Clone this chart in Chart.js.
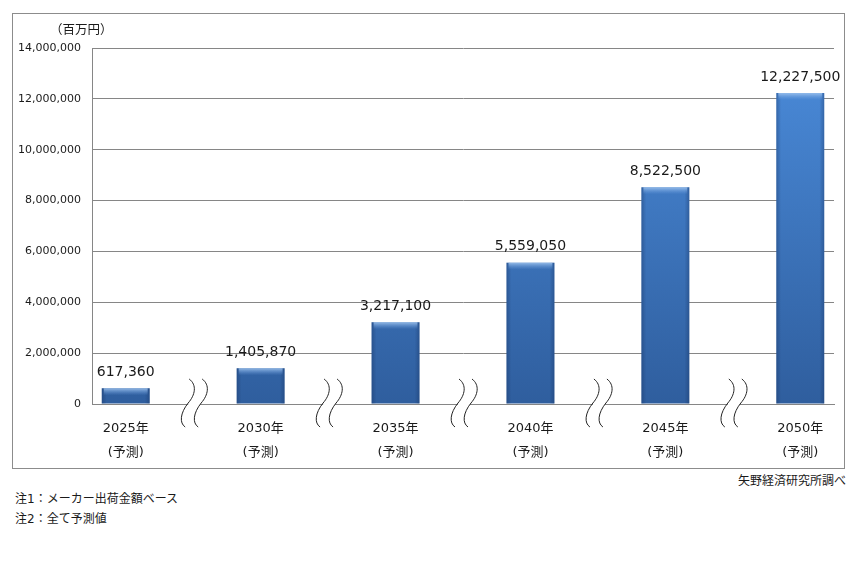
<!DOCTYPE html>
<html>
<head>
<meta charset="utf-8">
<script src="https://cdn.jsdelivr.net/npm/chart.js@4/dist/chart.umd.min.js"></script>
<style>
  body { margin: 0; background: #fff; width: 858px; height: 566px; position: relative; overflow: hidden;
         font-family: "DejaVu Sans", "Noto Sans CJK JP", sans-serif; color: #1a1a1a; }
  #box { position: absolute; left: 12px; top: 13px; width: 831px; height: 454px; border: 1px solid #8c8c8c; }
  #unit { position: absolute; left: 50px; top: 19px; font-size: 12.5px; }
  #src { position: absolute; right: 12px; top: 471px; font-size: 12px; }
  .note { position: absolute; left: 15px; font-size: 12px; }
</style>
</head>
<body>
<div id="box"><canvas id="myChart" width="831" height="454"></canvas></div>
<div id="unit">（百万円）</div>
<div id="src">矢野経済研究所調べ</div>
<div class="note" style="top:489px">注1：メーカー出荷金額ベース</div>
<div class="note" style="top:509px">注2：全て予測値</div>
<script>
// 11 slots: bars on even slots, wavy break marks on the odd ones
var years = ["2025年", "", "2030年", "", "2035年", "", "2040年", "", "2045年", "", "2050年"];
var subLabel = "(予測)";
var values = [617360, null, 1405870, null, 3217100, null, 5559050, null, 8522500, null, 12227500];
var yTicks = [0, 2000000, 4000000, 6000000, 8000000, 10000000, 12000000, 14000000];

var labels = years.map((y) => (y ? [y, subLabel] : ""));
var fontFam = "'DejaVu Sans', 'Noto Sans CJK JP', sans-serif";

function fmt(v) {
    return v.toString().replace(/\B(?=(\d{3})+(?!\d))/g, ",");
}

const barLook = {
    id: "barLook",
    afterDatasetsDraw(chart) {
        let ctx = chart.ctx;
        let meta = chart.getDatasetMeta(0);
        meta.data.forEach((bar, i) => {
            if (values[i] == null) return;
            let w = bar.width;
            let x0 = bar.x - w / 2;
            let h = bar.base - bar.y;
            ctx.save();
            // darker side edges
            let g = ctx.createLinearGradient(x0, 0, x0 + w, 0);
            g.addColorStop(0, "rgba(20,45,90,0.35)");
            g.addColorStop(0.1, "rgba(20,45,90,0)");
            g.addColorStop(0.9, "rgba(20,45,90,0)");
            g.addColorStop(1, "rgba(20,45,90,0.35)");
            ctx.fillStyle = g;
            ctx.fillRect(x0, bar.y, w, h);
            // top bevel highlight
            let t = Math.min(7, h / 2);
            let g2 = ctx.createLinearGradient(0, bar.y, 0, bar.y + t);
            g2.addColorStop(0, "rgba(165,200,240,0.85)");
            g2.addColorStop(1, "rgba(110,160,225,0)");
            ctx.fillStyle = g2;
            ctx.fillRect(x0 + 2, bar.y, w - 4, t);
            ctx.restore();
            // value label
            ctx.save();
            ctx.font = "14px " + fontFam;
            ctx.fillStyle = "#1a1a1a";
            ctx.textAlign = "center";
            ctx.textBaseline = "bottom";
            ctx.fillText(fmt(values[i]), bar.x, bar.y - 9);
            ctx.restore();
        });
    },
};

const breakMarks = {
    id: "breakMarks",
    afterDraw(chart) {
        let ctx = chart.ctx;
        let xs = chart.scales.x;
        let yb = chart.scales.y.getPixelForValue(0);
        values.forEach((v, i) => {
            if (v != null) return;
            let cx = xs.getPixelForValue(i);
            let top = yb - 25, bot = yb + 23;
            function curve(dx) {
                ctx.moveTo(cx + dx + 2, top);
                ctx.bezierCurveTo(cx + dx + 10, top + 6, cx + dx + 8, top + 16, cx + dx + 1, top + 24);
                ctx.bezierCurveTo(cx + dx - 7, bot - 14, cx + dx - 8, bot - 4, cx + dx - 2, bot);
            }
            ctx.save();
            // white band between the two waves hides the axis line
            ctx.fillStyle = "#fff";
            ctx.fillRect(cx - 5, yb - 3, 12, 6);
            ctx.beginPath();
            curve(-6);
            curve(7);
            ctx.strokeStyle = "#222";
            ctx.lineWidth = 1;
            ctx.stroke();
            ctx.restore();
        });
    },
};

const ctx = document.getElementById("myChart");
const chart = new Chart(ctx, {
    type: "bar",
    data: {
        labels: labels,
        datasets: [
            {
                data: values,
                backgroundColor: function (context) {
                    let area = context.chart.chartArea;
                    if (!area) return "#3f78c4";
                    let g = context.chart.ctx.createLinearGradient(0, area.top, 0, area.bottom);
                    g.addColorStop(0, "#4b8cdb");
                    g.addColorStop(1, "#2f5e9e");
                    return g;
                },
                borderWidth: 0,
                barPercentage: 0.71,
                categoryPercentage: 1,
            },
        ],
    },
    options: {
        responsive: false,
        animation: false,
        layout: { padding: { top: 34, right: 10, left: 0, bottom: 0 } },
        plugins: { legend: { display: false }, tooltip: { enabled: false } },
        scales: {
            x: {
                grid: { display: false, drawTicks: false },
                border: { display: true, color: "#868686" },
                ticks: {
                    color: "#1a1a1a",
                    font: { family: fontFam, size: 13, lineHeight: 1.85 },
                    padding: 13,
                    maxRotation: 0,
                    autoSkip: false,
                },
                afterFit: (scale) => {
                    scale.height = 64;
                },
            },
            y: {
                min: 0,
                max: 14000000,
                afterBuildTicks: (scale) => {
                    scale.ticks = yTicks.map((v) => ({ value: v }));
                },
                grid: { color: "#868686", drawTicks: false },
                border: { display: true, color: "#868686" },
                ticks: {
                    color: "#1a1a1a",
                    font: { family: fontFam, size: 11 },
                    padding: 11,
                    callback: (v) => fmt(v),
                },
                afterFit: (scale) => {
                    scale.width = 79;
                },
            },
        },
    },
    plugins: [barLook, breakMarks],
});
</script>
</body>
</html>
